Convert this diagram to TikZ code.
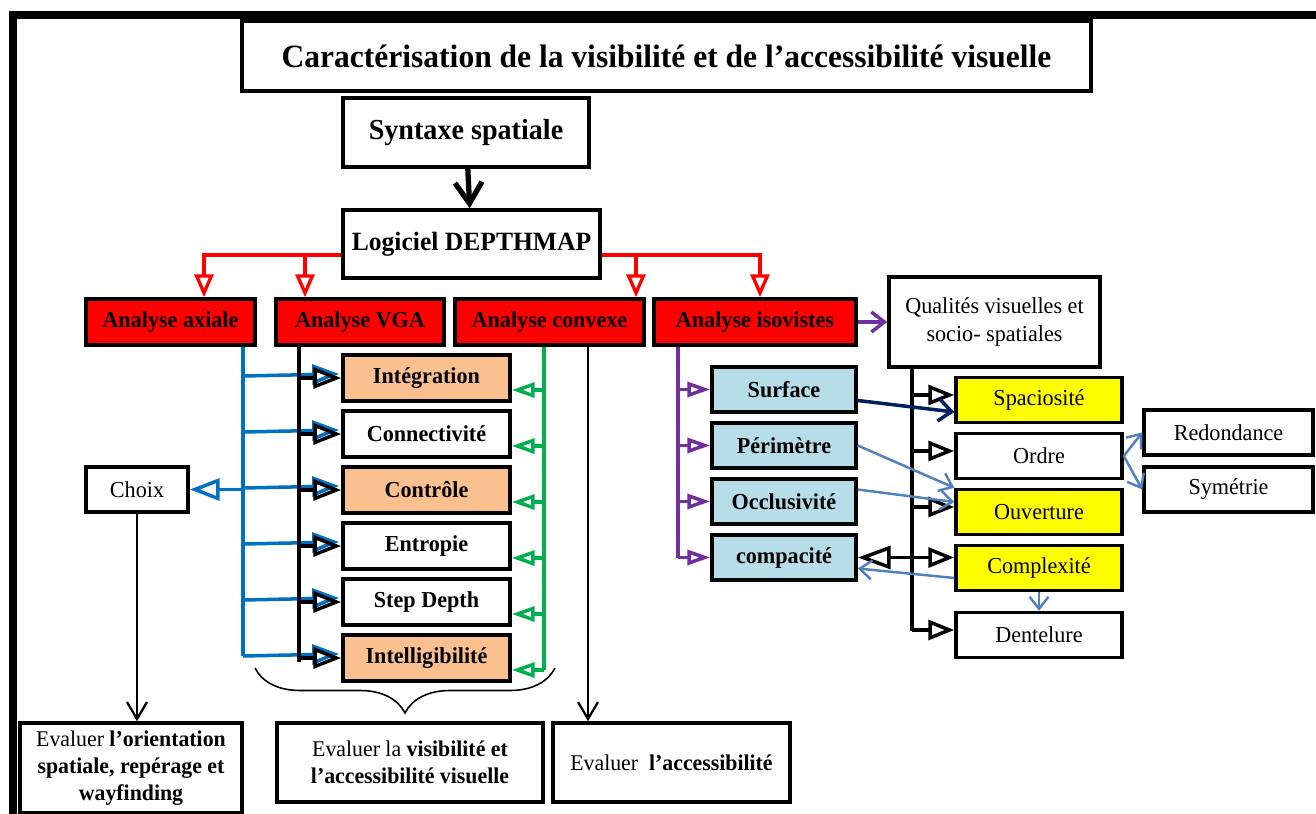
\documentclass[tikz,border=0pt]{standalone}
\usepackage{fontspec}
\setmainfont{Liberation Serif}[FakeStretch=0.97]
\usetikzlibrary{calc,positioning,arrows.meta,decorations.pathreplacing}

\definecolor{tan_fill}{HTML}{FAC090}
\definecolor{iso_fill}{HTML}{B7DEE8}
\definecolor{qual_fill}{HTML}{FFFF00}
\definecolor{axial_blue}{HTML}{0070C0}
\definecolor{convex_green}{HTML}{00B050}
\definecolor{iso_purple}{HTML}{7030A0}
\definecolor{steel_blue}{HTML}{4F81BD}
\definecolor{navy_blue}{HTML}{002060}

\begin{document}
\begin{tikzpicture}[
  x=0.02cm,y=-0.02cm,
  box/.style={rectangle,draw=black,line width=2pt,inner sep=2pt,align=center,font=\fontsize{13}{15.5}\selectfont\bfseries},
  plain_box/.style={box,font=\fontsize{13}{15.5}\selectfont},
  eval_box/.style={box,font=\fontsize{12.8}{15.3}\selectfont},
  red_box/.style={box,fill=red,minimum height=0.92cm},
  vga_box/.style={box,minimum width=3.34cm,minimum height=0.92cm},
  iso_box/.style={box,fill=iso_fill,minimum width=2.88cm,minimum height=0.9cm},
  qual_box/.style={plain_box,minimum width=3.32cm,minimum height=0.9cm},
  red_arrow/.style={draw=red,line width=1.9pt,-{Triangle[open,length=0.46cm,width=0.38cm]}},
  blue_line/.style={draw=axial_blue,line width=2pt},
  blue_arrow/.style={blue_line,-{Triangle[open,length=0.54cm,width=0.4cm]}},
  vga_line/.style={draw=black,line width=2pt},
  vga_arrow/.style={vga_line,-{Triangle[open,length=0.56cm,width=0.42cm]}},
  green_line/.style={draw=convex_green,line width=2pt},
  green_arrow/.style={green_line,-{Triangle[open,length=0.46cm,width=0.3cm]}},
  purple_line/.style={draw=iso_purple,line width=2pt},
  purple_arrow/.style={purple_line,-{Triangle[open,length=0.46cm,width=0.3cm]}},
  qual_arrow/.style={vga_line,-{Triangle[open,length=0.52cm,width=0.4cm]}},
  steel_arrow/.style={draw=steel_blue,line width=1.4pt,-{Straight Barb[length=0.24cm,width=0.38cm]}},
  thin_arrow/.style={draw=black,line width=1.3pt,-{Straight Barb[length=0.34cm,width=0.4cm]}}
  ]
  \useasboundingbox (0,0) rectangle (1316,814);

%frame
  \draw[line width=4pt,line join=miter] (1340,15) -- (13,15) -- (13,840);

%top of the chain
  \node (title) [box,line width=2.4pt,minimum width=16.98cm,minimum height=1.4cm,font=\fontsize{18.5}{20}\selectfont\bfseries] at(666.5,56) {Caractérisation de la visibilité et de l’accessibilité visuelle};
  \node (syntaxe) [box,minimum width=4.92cm,minimum height=1.38cm,font=\fontsize{16.5}{18}\selectfont\bfseries] at(466,132.5) {Syntaxe spatiale};
  \node (logiciel) [box,minimum width=5.14cm,minimum height=1.36cm,font=\fontsize{15}{17}\selectfont\bfseries] at(471.5,244) {Logiciel DEPTHMAP};
  \draw[line width=3pt,-{Straight Barb[length=0.42cm,width=0.54cm]}] (syntaxe) -- (logiciel);

%the four analyses
  \node (axiale) [red_box,minimum width=3.38cm] at(170.5,322) {Analyse axiale};
  \node (VGA) [red_box,minimum width=3.36cm] at(360,322) {Analyse VGA};
  \node (convexe) [red_box,minimum width=3.78cm] at(549.5,322) {Analyse convexe};
  \node (isovistes) [red_box,minimum width=4.04cm] at(755,322) {Analyse isovistes};

  \coordinate (red_l) at($(logiciel.west)+(0,11)$);
  \coordinate (red_r) at($(logiciel.east)+(0,11)$);
  \draw[red_arrow] (red_l) -| ($(axiale.north)+(33.5,0)$);
  \draw[red_arrow] (red_l) -| ($(VGA.north)+(-55,0)$);
  \draw[red_arrow] (red_r) -| ($(convexe.north)+(86.5,0)$);
  \draw[red_arrow] (red_r) -| ($(isovistes.north)+(5,0)$);

%VGA measures
  \foreach \n/\t/\c [count=\i from 0] in {integ/Intégration/tan_fill,conn/Connectivité/white,ctrl/Contrôle/tan_fill,entr/Entropie/white,step/Step Depth/white,intel/Intelligibilité/tan_fill}
    \node (vga_\n) [vga_box,fill=\c] at(426.5,{378+56*\i}) {\t};

  \node (choix) [plain_box,minimum width=2.04cm,minimum height=0.9cm] at(137,489.5) {Choix};

  \coordinate (ax_trunk) at($(axiale.south)+(72.5,0)$);
  \coordinate (vga_trunk) at($(VGA.south)+(-61,0)$);
  \coordinate (cx_trunk) at($(convexe.south)+(-5.5,0)$);
  \coordinate (cx_drop) at($(convexe.south)+(38.5,0)$);

  \draw[blue_line] (ax_trunk) -- ($(ax_trunk |- vga_intel.west)+(0,-2)$);
  \foreach \n in {integ,conn,ctrl,entr,step,intel}
    \draw[blue_arrow] ($(ax_trunk |- vga_\n.west)+(0,-2)$) -- ($(vga_\n.west)+(-2,-4)$);
  \draw[blue_arrow,-{Triangle[open,length=0.6cm,width=0.44cm]}] (ax_trunk |- choix.east) -- (choix.east);

  \draw[vga_line] (VGA.south -| vga_trunk) -- ($(vga_trunk |- vga_intel.west)+(0,4)$);
  \foreach \n in {integ,conn,ctrl,entr,step,intel}
    \draw[vga_arrow] (vga_trunk |- vga_\n.west) -- (vga_\n.west);

  \draw[green_line] (cx_trunk) -- ($(cx_trunk |- vga_intel.east)+(0,12)$);
  \foreach \n in {integ,conn,ctrl,entr,step,intel}
    \draw[green_arrow] ($(cx_trunk |- vga_\n.east)+(0,12)$) -- ($(vga_\n.east)+(0,12)$);

  \draw[decorate,decoration={brace,mirror,amplitude=0.9cm},line width=0.9pt] (255,668) -- (555,668);

%what each analysis evaluates
  \node (orient) [eval_box,minimum width=4.44cm,minimum height=1.8cm] at(131,768) {Evaluer \textbf{l’orientation}\\\textbf{spatiale, repérage et}\\\textbf{wayfinding}};
  \node (visib) [eval_box,minimum width=5.32cm,minimum height=1.58cm] at(410,762.5) {Evaluer la \textbf{visibilité et}\\\textbf{l’accessibilité visuelle}};
  \node (access) [eval_box,minimum width=4.74cm,minimum height=1.58cm] at(671.5,762.5) {Evaluer\ \ \textbf{l’accessibilité}};

  \draw[thin_arrow] (choix.south) -- (choix.south |- orient.north);
  \draw[thin_arrow] (cx_drop) -- (cx_drop |- access.north);

%isovists
  \node (qualites) [plain_box,minimum width=4.22cm,minimum height=1.8cm] at(994.5,322) {Qualités visuelles et\\socio- spatiales};
  \draw[purple_line,-{Straight Barb[length=0.26cm,width=0.4cm]}] (isovistes.east) -- (qualites.west);

  \node (iso_surf) [iso_box] at(784,389.5) {Surface};
  \node (iso_perim) [iso_box] at(784,445.5) {Périmètre};
  \node (iso_occl) [iso_box] at(784,501.5) {Occlusivité};
  \node (iso_compac) [iso_box] at(784,557.5) {compacité};

  \node (q_spac) [qual_box,fill=qual_fill] at(1039,400) {Spaciosité};
  \node (q_ordre) [qual_box] at(1039,456) {Ordre};
  \node (q_ouv) [qual_box,fill=qual_fill] at(1039,512) {Ouverture};
  \node (q_compl) [qual_box,fill=qual_fill] at(1039,568) {Complexité};
  \node (q_dent) [qual_box] at(1039,635) {Dentelure};

  \node (redond) [plain_box,minimum width=3.38cm,minimum height=0.9cm] at(1228.5,432.5) {Redondance};
  \node (symet) [plain_box,minimum width=3.38cm,minimum height=0.9cm] at(1228.5,489.5) {Symétrie};

  \coordinate (iso_trunk) at($(isovistes.south)+(-77,0)$);
  \coordinate (qual_trunk) at($(qualites.south)+(-82.5,0)$);

  \draw[purple_line] (iso_trunk) -- (iso_trunk |- iso_compac.west);
  \foreach \n in {surf,perim,occl,compac}
    \draw[purple_arrow] (iso_trunk |- iso_\n.west) -- (iso_\n.west);

  \draw[vga_line] (qual_trunk) -- ($(qual_trunk |- q_dent.west)+(0,-4)$);
  \foreach \n in {spac,ordre,ouv,dent}
    \draw[qual_arrow] ($(qual_trunk |- q_\n.west)+(0,-5)$) -- ($(q_\n.west)+(0,-5)$);
  \draw[qual_arrow] (qual_trunk |- iso_compac.east) -- (q_compl.west |- iso_compac.east);
  \draw[vga_line,-{Triangle[open,length=0.66cm,width=0.46cm]}] (qual_trunk |- iso_compac.east) -- (iso_compac.east);

  \draw[navy_blue,line width=2pt,-{Straight Barb[length=0.26cm,width=0.44cm]}] ($(iso_surf.east)+(0,11)$) -- ($(q_spac.west)+(0,12)$);
  \draw[steel_arrow] (iso_perim.east) -- (q_ouv.north west);
  \draw[steel_arrow] ($(iso_occl.east)+(0,-12)$) -- ($(q_ouv.west)+(0,-10)$);
  \draw[steel_arrow] ($(q_compl.west)+(0,10)$) -- ($(iso_compac.east)+(0,11)$);
  \draw[steel_arrow] (q_compl.south) -- (q_dent.north);
  \draw[steel_arrow] (q_ordre.east) -- (redond.west);
  \draw[steel_arrow] (q_ordre.east) -- (symet.west);

\end{tikzpicture}
\end{document}
